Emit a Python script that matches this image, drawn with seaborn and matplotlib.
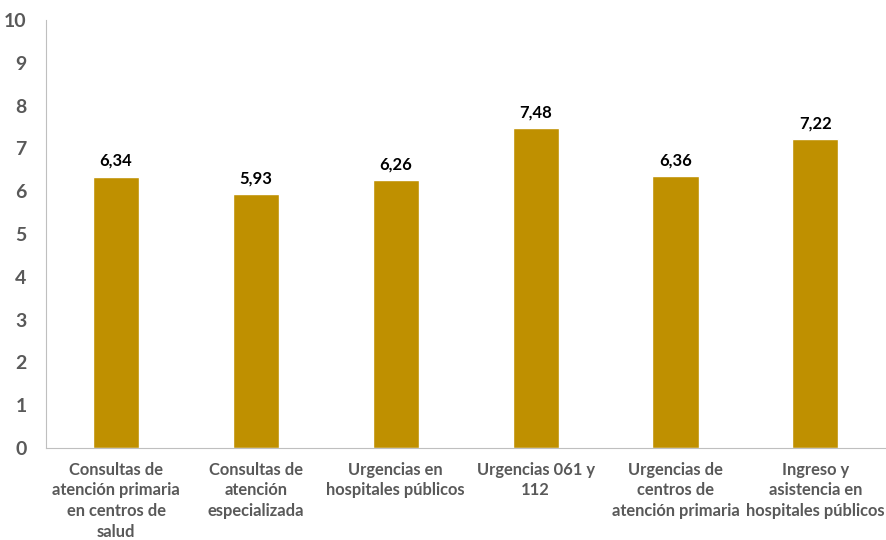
import matplotlib
matplotlib.use("Agg")
import matplotlib.pyplot as plt
import seaborn as sns
import pandas as pd

# data
categories = [
    "Consultas de\natención primaria\nen centros de\nsalud",
    "Consultas de\natención\nespecializada",
    "Urgencias en\nhospitales públicos",
    "Urgencias 061 y\n112",
    "Urgencias de\ncentros de\natención primaria",
    "Ingreso y\nasistencia en\nhospitales públicos",
]
values = [6.34, 5.93, 6.26, 7.48, 6.36, 7.22]
y_ticks = list(range(0, 11))

df = pd.DataFrame({"categoria": categories, "valor": values})

sns.set_style("white")
plt.rcParams["font.family"] = ["Lato", "DejaVu Sans"]

fig = plt.figure(figsize=(8.87, 5.4), dpi=100)
ax = fig.add_axes([0.052, 0.1704, 0.946, 0.7926])

sns.barplot(data=df, x="categoria", y="valor", color="#BF9000",
            saturation=1, width=0.33, ax=ax)

# value labels
for i, v in enumerate(values):
    ax.text(i, v + 0.18, f"{v:.2f}".replace(".", ","), ha="center", va="bottom",
            fontsize=12, fontweight="bold", color="black")

ax.set_ylim(0, 10)
ax.set_xlim(-0.5, len(values) - 0.5)
ax.set_yticks(y_ticks)
ax.set_yticklabels([str(t) for t in y_ticks], fontsize=14, fontweight="bold", color="#595959")
ax.set_xticklabels(categories, fontsize=11.9, fontweight="bold", color="#595959",
                   linespacing=1.35)
ax.tick_params(axis="both", length=0)
ax.tick_params(axis="y", pad=14)
ax.tick_params(axis="x", pad=10)
ax.set_xlabel("")
ax.set_ylabel("")

for s in ["top", "right"]:
    ax.spines[s].set_visible(False)
ax.spines["left"].set_color("#BFBFBF")
ax.spines["bottom"].set_color("#BFBFBF")

plt.savefig("out.png", dpi=100)
